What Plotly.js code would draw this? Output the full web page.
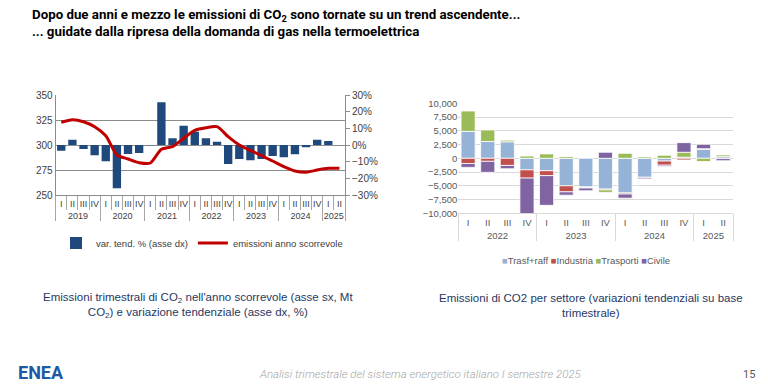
<!DOCTYPE html>
<html>
<head>
<meta charset="utf-8">
<script src="https://cdn.plot.ly/plotly-3.0.1.min.js"></script>
<style>
  html, body { margin: 0; padding: 0; background: #ffffff; }
  #chart { width: 768px; height: 389px; }
</style>
</head>
<body>
<div id="chart"></div>
<script>
// ---- Left panel: rolling-year CO2 emissions (Mt) and year-on-year change (%) ----
const leftYears = ['2019', '2020', '2021', '2022', '2023', '2024', '2025'];
const leftQuartersPerYear = [4, 4, 4, 4, 4, 4, 2];
const quarterNames = ['I', 'II', 'III', 'IV'];
const yoyChangePct = [-3.4, 3.2, -2.4, -6.2, -9.8, -26.0, -5.4, -4.8, -0.2, 25.6, 4.0, 11.6,
                      8.0, 4.0, 2.0, -11.4, -8.4, -9.2, -8.4, -6.6, -7.4, -5.6, -1.4, 3.2, 2.4, null];
const rollingEmissionsMt = [322.7, 325.3, 323.3, 318.3, 309.3, 290.0, 286.0, 282.3, 282.0, 295.7, 298.3, 306.7,
                            314.7, 317.3, 318.3, 308.3, 300.0, 294.7, 289.3, 284.0, 278.3, 274.0, 272.7, 275.0, 276.7, 276.7];

// ---- Right panel: CO2 emissions by sector, y/y change on quarterly basis ----
const rightYears = ['2022', '2023', '2024', '2025'];
const rightQuartersPerYear = [4, 4, 4, 2];
const sectorNames = ['Trasf+raff', 'Industria', 'Trasporti', 'Civile'];
const trasfRaff = [4900, 3050, 3000, -2100, -2250, -5000, -5200, -5600, -6300, -3450, -500, 200, 1600, 300];
const industria = [-950, -550, -1300, -1500, -900, -1100, -150, -150, -200, -100, -750, -300, 150, -50];
const trasporti = [3700, 2100, 300, 400, 800, 300, -50, -450, 900, 250, 550, 900, -600, 300];
const civile = [-700, -2000, -600, -6500, -5400, -600, -500, 1100, -750, -200, -250, 1750, 800, -400];
const sectorColors = ['#95b3d7', '#c0504d', '#9bbb59', '#8064a2'];

// Build the two-level (year / quarter) category arrays
function buildCategories(years, counts) {
  const outer = [], inner = [];
  years.forEach((y, i) => {
    for (let q = 0; q < counts[i]; q++) { outer.push(y); inner.push(quarterNames[q]); }
  });
  return [outer, inner];
}
const leftX = buildCategories(leftYears, leftQuartersPerYear);
const rightX = buildCategories(rightYears, rightQuartersPerYear);

const W = 768, H = 389;
const px = v => v / W;          // horizontal pixel -> paper
const py = v => 1 - v / H;      // vertical pixel -> paper

const traces = [
  {
    type: 'bar', name: 'var. tend. % (asse dx)',
    x: leftX, y: yoyChangePct, xaxis: 'x', yaxis: 'y',
    width: 0.75, marker: { color: '#1f497d' },
    legend: 'legend', hoverinfo: 'skip'
  },
  {
    type: 'scatter', mode: 'lines', name: 'emissioni anno scorrevole',
    x: leftX, y: rollingEmissionsMt, xaxis: 'x', yaxis: 'y2',
    line: { color: '#c00000', width: 3, shape: 'spline', smoothing: 0.7 },
    legend: 'legend', hoverinfo: 'skip'
  }
];
[trasfRaff, industria, trasporti, civile].forEach((vals, i) => {
  traces.push({
    type: 'bar', name: sectorNames[i],
    x: rightX, y: vals, xaxis: 'x2', yaxis: 'y3',
    width: 0.72,
    marker: { color: sectorColors[i], line: { color: '#ffffff', width: 0.8 } },
    showlegend: false, hoverinfo: 'skip'
  });
});

const axisGrey = '#8c8c8c';
const lightGrey = '#d9d9d9';
const captionFont = '"Liberation Sans", Arial, sans-serif';

const rightLegendText = sectorNames.map((n, i) =>
  '<span style="color:' + sectorColors[i] + '">■</span>' + n).join(' ');

const layout = {
  width: W, height: H,
  margin: { l: 0, r: 0, t: 0, b: 0 },
  paper_bgcolor: '#ffffff', plot_bgcolor: 'rgba(0,0,0,0)',
  font: { family: '"Liberation Sans", Arial, sans-serif', size: 10, color: '#404040' },
  barmode: 'relative',
  showlegend: true,
  legend: {
    orientation: 'h', x: px(56), xanchor: 'left', y: py(243), yanchor: 'middle',
    font: { size: 9.5, color: '#404040' }, bgcolor: 'rgba(0,0,0,0)',
    itemclick: false
  },
  xaxis: {
    domain: [px(55.7), px(345)], anchor: 'y', type: 'multicategory',
    tickson: 'boundaries', ticks: 'outside', ticklen: 14, tickcolor: '#a6a6a6',
    tickangle: 0,
    dividercolor: '#a6a6a6', dividerwidth: 1,
    showline: true, linecolor: axisGrey, showgrid: false,
    tickfont: { size: 9, color: '#404040' }
  },
  // percent axis (bars) on the right
  yaxis: {
    domain: [py(195), py(95)], anchor: 'x', side: 'right',
    range: [-30, 30], dtick: 10, ticksuffix: '%',
    showgrid: false, zeroline: false, showline: true, linecolor: axisGrey,
    ticks: 'outside', ticklen: 4, tickcolor: axisGrey,
    tickfont: { size: 10, color: '#404040' }
  },
  // Mt axis (rolling-year line) on the left, drawn over the bars
  yaxis2: {
    overlaying: 'y', anchor: 'x', side: 'left',
    range: [250, 350], tickvals: [250, 275, 300, 325, 350],
    showgrid: true, gridcolor: axisGrey, gridwidth: 1, zeroline: false,
    showline: true, linecolor: axisGrey, ticks: '',
    tickfont: { size: 10, color: '#404040' }
  },
  xaxis2: {
    domain: [px(458.3), px(733)], anchor: 'y3', type: 'multicategory',
    tickson: 'boundaries', ticks: '', tickangle: 0,
    dividercolor: lightGrey, dividerwidth: 1,
    showline: true, linecolor: lightGrey, showgrid: false,
    tickfont: { size: 9.5, color: '#595959' }
  },
  yaxis3: {
    domain: [py(213.3), py(103.3)], anchor: 'x2',
    range: [-10000, 10000], dtick: 2500, tickformat: ',',
    showgrid: true, gridcolor: lightGrey, gridwidth: 1, zeroline: false, showline: false,
    tickfont: { size: 9.5, color: '#595959' }
  },
  annotations: [
    {
      xref: 'paper', yref: 'paper', x: px(30), y: py(5), xanchor: 'left', yanchor: 'top', align: 'left',
      showarrow: false,
      text: 'Dopo due anni e mezzo le emissioni di CO<sub>2</sub> sono tornate su un trend ascendente...<br>... guidate dalla ripresa della domanda di gas nella termoelettrica',
      font: { family: 'Roboto, "Liberation Sans", sans-serif', size: 13.3, weight: 700, color: '#000000' }
    },
    {
      xref: 'paper', yref: 'paper', x: px(198), y: py(305), xanchor: 'center', yanchor: 'middle', align: 'center',
      showarrow: false,
      text: 'Emissioni trimestrali di CO<sub>2</sub> nell\'anno scorrevole (asse sx, Mt<br>CO<sub>2</sub>) e variazione tendenziale (asse dx, %)',
      font: { family: captionFont, size: 11.5, color: '#1f3864' }
    },
    {
      xref: 'paper', yref: 'paper', x: px(591), y: py(305), xanchor: 'center', yanchor: 'middle', align: 'center',
      showarrow: false,
      text: 'Emissioni di CO2 per settore (variazioni tendenziali su base<br>trimestrale)',
      font: { family: captionFont, size: 11.5, color: '#1f3864' }
    },
    {
      xref: 'paper', yref: 'paper', x: px(586), y: py(260), xanchor: 'center', yanchor: 'middle',
      showarrow: false, text: rightLegendText,
      font: { size: 9.5, color: '#595959' }
    },
    {
      xref: 'paper', yref: 'paper', x: px(420), y: py(374), xanchor: 'center', yanchor: 'middle',
      showarrow: false,
      text: '<i>Analisi trimestrale del sistema energetico italiano I semestre 2025</i>',
      font: { family: 'Roboto, "Liberation Sans", sans-serif', size: 11.5, weight: 300, color: '#a6a6a6' }
    },
    {
      xref: 'paper', yref: 'paper', x: px(749), y: py(374), xanchor: 'center', yanchor: 'middle',
      showarrow: false, text: '15',
      font: { family: 'Roboto, "Liberation Sans", sans-serif', size: 11, color: '#595959' }
    },
    {
      xref: 'paper', yref: 'paper', x: px(41), y: py(372), xanchor: 'center', yanchor: 'middle',
      showarrow: false, text: '<b>ENEA</b>',
      font: { family: 'Roboto, "Liberation Sans", sans-serif', size: 18, weight: 900, color: '#1c5aa6' }
    }
  ]
};

Plotly.newPlot('chart', traces, layout, { staticPlot: true, displayModeBar: false });
</script>
</body>
</html>
